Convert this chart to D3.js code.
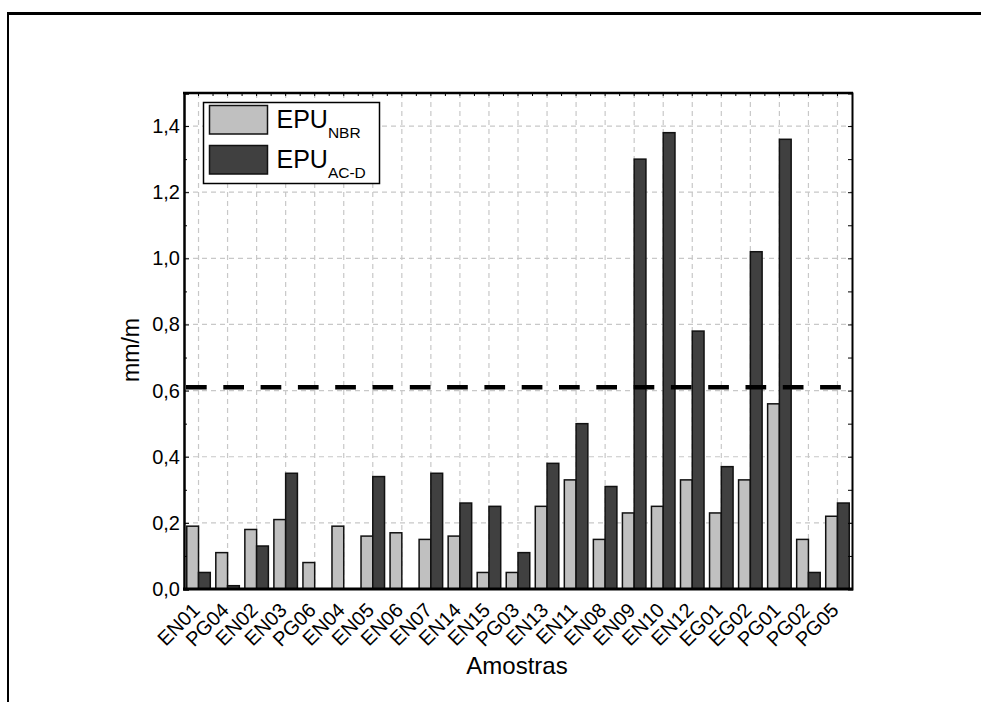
<!DOCTYPE html>
<html>
<head>
<meta charset="utf-8">
<script src="https://cdn.jsdelivr.net/npm/d3@7"></script>
<style>
  html, body { margin: 0; padding: 0; background: #fff; }
  svg { display: block; font-family: "Liberation Sans", Arial, sans-serif; }
</style>
</head>
<body>
<svg id="chart" width="981" height="702"></svg>
<script>
// Sample identifiers along the x axis
const categories = ["EN01","PG04","EN02","EN03","PG06","EN04","EN05","EN06","EN07","EN14",
  "EN15","PG03","EN13","EN11","EN08","EN09","EN10","EN12","EG01","EG02","PG01","PG02","PG05"];

// EPU_NBR values (mm/m)
const epuNBR = [0.19,0.11,0.18,0.21,0.08,0.19,0.16,0.17,0.15,0.16,
  0.05,0.05,0.25,0.33,0.15,0.23,0.25,0.33,0.23,0.33,0.56,0.15,0.22];

// EPU_AC-D values (mm/m)
const epuACD = [0.05,0.01,0.13,0.35,0,0,0.34,0,0.35,0.26,
  0.25,0.11,0.38,0.50,0.31,1.30,1.38,0.78,0.37,1.02,1.36,0.05,0.26];

const seriesNames = ["NBR","AC-D"];
const yTicks = [0,0.2,0.4,0.6,0.8,1.0,1.2,1.4];
const yMinorTicks = [0.1,0.3,0.5,0.7,0.9,1.1,1.3];
const limitValue = 0.61;

const fmt = v => v.toFixed(1).replace(".", ",");
const FONT = "Liberation Sans, Arial, sans-serif";

const svg = d3.select("#chart");
const margin = {left: 184, top: 93, right: 852, bottom: 589};

const x = d3.scaleBand().domain(categories)
  .range([margin.left, margin.right]).paddingInner(0.19).paddingOuter(0.095);
const xSub = d3.scaleBand().domain(seriesNames).range([0, x.bandwidth()]).padding(0);
const y = d3.scaleLinear().domain([0, 1.5]).range([margin.bottom, margin.top]);

const colors = {"NBR": "#c0c0c0", "AC-D": "#404040"};

// Outer frame lines
svg.append("line").attr("x1", 7).attr("x2", 981).attr("y1", 13.5).attr("y2", 13.5)
  .attr("stroke", "#000").attr("stroke-width", 3);
svg.append("line").attr("x1", 8).attr("x2", 8).attr("y1", 12).attr("y2", 702)
  .attr("stroke", "#000").attr("stroke-width", 2);

// Grid lines
const grid = svg.append("g").attr("stroke", "#c8c8c8").attr("stroke-width", 1.2)
  .attr("stroke-dasharray", "5,4");
grid.selectAll("line.h").data(yTicks.slice(1)).join("line").attr("class", "h")
  .attr("x1", margin.left).attr("x2", margin.right)
  .attr("y1", d => y(d)).attr("y2", d => y(d));
grid.selectAll("line.v").data(categories).join("line").attr("class", "v")
  .attr("x1", d => x(d) + x.bandwidth() / 2).attr("x2", d => x(d) + x.bandwidth() / 2)
  .attr("y1", margin.top).attr("y2", margin.bottom);

// Bars
const groups = svg.append("g").selectAll("g").data(categories).join("g")
  .attr("transform", d => `translate(${x(d)},0)`);
groups.selectAll("rect")
  .data((d, i) => [{s: "NBR", v: epuNBR[i]}, {s: "AC-D", v: epuACD[i]}].filter(e => e.v > 0))
  .join("rect")
  .attr("x", d => xSub(d.s))
  .attr("width", xSub.bandwidth())
  .attr("y", d => y(d.v))
  .attr("height", d => y(0) - y(d.v))
  .attr("fill", d => colors[d.s])
  .attr("stroke", "#111")
  .attr("stroke-width", 1.5);

// Limit line
svg.append("line")
  .attr("x1", margin.left + 2).attr("x2", margin.right)
  .attr("y1", y(limitValue)).attr("y2", y(limitValue))
  .attr("stroke", "#000").attr("stroke-width", 4.5)
  .attr("stroke-dasharray", "20.7,16.6");

// Axes frame
const axisG = svg.append("g");
const leftAxis = d3.axisLeft(y).tickValues(yTicks).tickFormat(fmt).tickSize(-5).tickPadding(3);
axisG.append("g").attr("transform", `translate(${margin.left},0)`).call(leftAxis)
  .call(g => g.select(".domain").attr("stroke-width", 2.5))
  .call(g => g.selectAll("text").attr("font-size", 20).attr("fill", "#000")
    .attr("font-family", FONT).attr("dx", -1));
axisG.append("g").attr("transform", `translate(${margin.left},0)`)
  .call(d3.axisLeft(y).tickValues(yMinorTicks).tickSize(-3).tickFormat(""))
  .call(g => g.select(".domain").remove());

const rightAxis = d3.axisRight(y).tickValues(yTicks.concat(yMinorTicks)).tickSize(-4).tickFormat("");
axisG.append("g").attr("transform", `translate(${margin.right},0)`).call(rightAxis)
  .call(g => g.select(".domain").attr("stroke-width", 2));

// Top axis ticks at band centres and boundaries
const topTicks = [];
categories.forEach(c => { topTicks.push(x(c) + x.bandwidth() / 2); });
const stepPx = x.step();
categories.slice(1).forEach(c => { topTicks.push(x(c) + x.bandwidth() / 2 - stepPx / 2); });
axisG.append("line").attr("x1", margin.left - 1).attr("x2", margin.right + 1)
  .attr("y1", margin.top).attr("y2", margin.top).attr("stroke", "#000").attr("stroke-width", 2.5);
axisG.selectAll("line.tt").data(topTicks).join("line").attr("class", "tt")
  .attr("x1", d => d).attr("x2", d => d)
  .attr("y1", margin.top).attr("y2", margin.top + 3)
  .attr("stroke", "#000").attr("stroke-width", 1);

// Bottom axis with rotated labels
const bottom = axisG.append("g").attr("transform", `translate(0,${margin.bottom})`)
  .call(d3.axisBottom(x).tickSize(0).tickPadding(0));
bottom.select(".domain").attr("stroke-width", 3).attr("d", `M${margin.left - 1},0H${margin.right + 1}`);
bottom.selectAll("text")
  .attr("font-size", 20).attr("fill", "#000")
  .attr("font-family", FONT)
  .attr("text-anchor", "end")
  .attr("y", 0)
  .attr("dy", 0)
  .attr("transform", "translate(2.5,22.5) rotate(-45)");

// Axis titles
svg.append("text").attr("transform", `translate(139,350) rotate(-90)`)
  .attr("text-anchor", "middle").attr("font-size", 23).text("mm/m");
svg.append("text").attr("x", 517).attr("y", 674)
  .attr("text-anchor", "middle").attr("font-size", 24).text("Amostras");

// Legend
const lg = svg.append("g").attr("transform", `translate(${margin.left + 19.5},${margin.top + 9.5})`);
lg.append("rect").attr("width", 176).attr("height", 81).attr("fill", "#fff")
  .attr("stroke", "#000").attr("stroke-width", 1.5);
seriesNames.forEach((s, i) => {
  const row = lg.append("g").attr("transform", `translate(6,${3 + i * 40})`);
  row.append("rect").attr("width", 58).attr("height", 28.5)
    .attr("fill", colors[s]).attr("stroke", "#111").attr("stroke-width", 1.5);
  const t = row.append("text").attr("x", 67).attr("y", 22).attr("font-size", 25);
  t.append("tspan").text("EPU");
  t.append("tspan").attr("font-size", 15.5).attr("dy", 10.4).text(s);
});
</script>
</body>
</html>
